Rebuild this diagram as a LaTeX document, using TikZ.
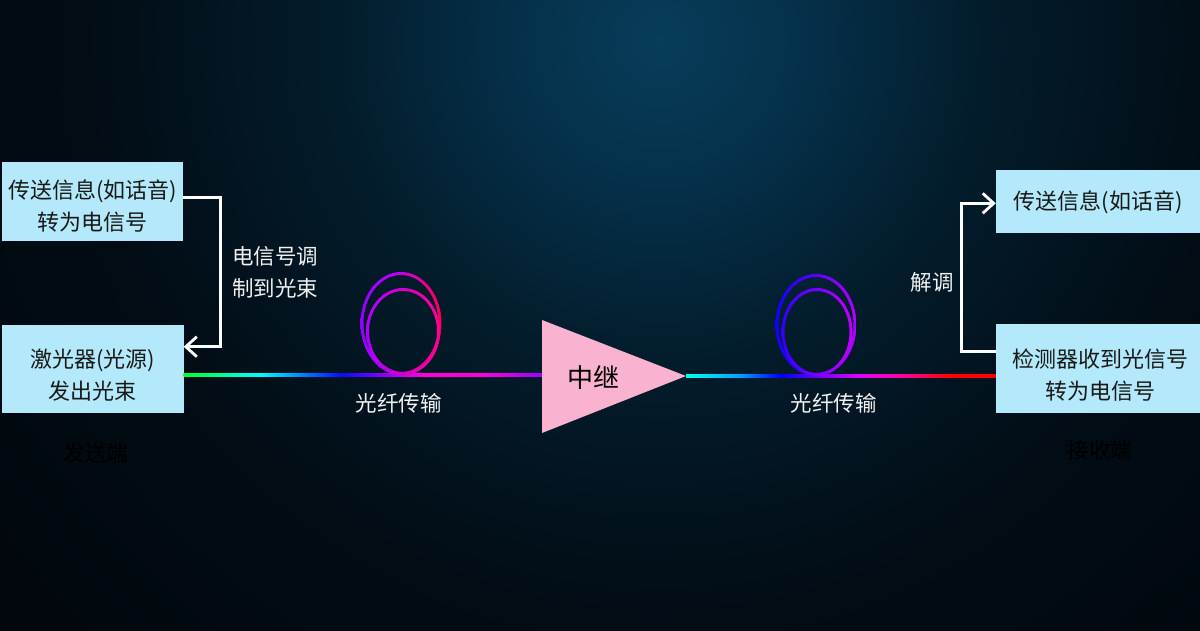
\documentclass[tikz,border=0pt]{standalone}
\usepackage{fontspec}
\setmainfont{Noto Sans CJK SC}
\usetikzlibrary{arrows.meta}
\definecolor{boxc}{HTML}{B3E9FA}
\definecolor{tric}{HTML}{F9B3D0}
\definecolor{bgA}{HTML}{073D5A}
\definecolor{bgB}{HTML}{05304A}
\definecolor{bgC}{HTML}{031C2B}
\definecolor{bgD}{HTML}{020C15}
\definecolor{bgE}{HTML}{01060B}
\definecolor{fA}{HTML}{00FF30}
\definecolor{fB}{HTML}{00FFFF}
\definecolor{fC}{HTML}{0010FF}
\definecolor{fD}{HTML}{8000FF}
\definecolor{fE}{HTML}{FF00DD}
\definecolor{fF}{HTML}{A000FF}
\definecolor{gA}{HTML}{00FFEE}
\definecolor{gB}{HTML}{00A0FF}
\definecolor{gC}{HTML}{0000FF}
\definecolor{gD}{HTML}{7000FF}
\definecolor{gE}{HTML}{E000FF}
\definecolor{gF}{HTML}{FF00AA}
\definecolor{gG}{HTML}{FF0000}
\definecolor{lA}{HTML}{9000FF}
\definecolor{lB}{HTML}{B800FF}
\definecolor{lC}{HTML}{FF0050}
\definecolor{lD}{HTML}{A800FF}
\definecolor{lE}{HTML}{FF0090}
\definecolor{mA}{HTML}{1000FF}
\definecolor{mB}{HTML}{B000FF}
\definecolor{mC}{HTML}{3000FF}
\definecolor{mD}{HTML}{C000FF}
\pgfdeclareradialshading{bgglow}{\pgfpoint{0bp}{0bp}}{color(0bp)=(bgA); color(4bp)=(bgB); color(9bp)=(bgC); color(16bp)=(bgD); color(25bp)=(bgE); color(50bp)=(bgE)}
\pgfdeclarehorizontalshading{fiberL}{100bp}{color(0bp)=(fA); color(25bp)=(fA); color(35.7bp)=(fB); color(46.9bp)=(fC); color(52.4bp)=(fD); color(58bp)=(fE); color(66.4bp)=(fE); color(75bp)=(fF); color(100bp)=(fF)}
\pgfdeclarehorizontalshading{fiberR}{100bp}{color(0bp)=(gA); color(25bp)=(gA); color(33.7bp)=(gB); color(40.2bp)=(gC); color(46.6bp)=(gD); color(53bp)=(gE); color(59.5bp)=(gF); color(67.7bp)=(gG); color(100bp)=(gG)}
\pgfdeclarehorizontalshading{loopAo}{100bp}{color(0bp)=(lA); color(25bp)=(lA); color(45bp)=(lB); color(75bp)=(lC); color(100bp)=(lC)}
\pgfdeclarehorizontalshading{loopAi}{100bp}{color(0bp)=(lD); color(25bp)=(lD); color(75bp)=(lE); color(100bp)=(lE)}
\pgfdeclarehorizontalshading{loopBo}{100bp}{color(0bp)=(mA); color(25bp)=(mA); color(75bp)=(mB); color(100bp)=(mB)}
\pgfdeclarehorizontalshading{loopBi}{100bp}{color(0bp)=(mC); color(25bp)=(mC); color(75bp)=(mD); color(100bp)=(mD)}
\tikzset{
  box/.style={fill=boxc, inner sep=0pt},
  boxtext/.style={text=black!90, inner sep=0pt, align=center, font=\fontsize{22pt}{32pt}\selectfont},
  lbl/.style={text=white!95!black, inner sep=0pt, align=center, font=\fontsize{21.5pt}{32pt}\selectfont},
  dimlbl/.style={text=black, inner sep=0pt, font=\fontsize{21.5pt}{26pt}\selectfont},
  conn/.style={draw=white, line width=2.8pt, -{Straight Barb[length=11pt,width=20pt]}},
}
\begin{document}
\begin{tikzpicture}[x=1pt,y=-1pt]
\useasboundingbox (0,0) rectangle (1200,630);
\begin{scope}
\clip (0,0) rectangle (1200,630);
\fill[bgE] (0,0) rectangle (1200,630);
\shade[shading=bgglow] (660,40) circle [radius=900pt];
\end{scope}
% boxes
\node[box, minimum width=181pt, minimum height=78.5pt] (ltop) at (92.5,201.3) {};
\node[box, minimum width=181.5pt, minimum height=88.3pt] (lbot) at (92.75,369.2) {};
\node[box, minimum width=204pt, minimum height=62.7pt] (rtop) at (1098,201.3) {};
\node[box, minimum width=204pt, minimum height=89.3pt] (rbot) at (1098,368.7) {};
\node[boxtext] (ltopT) at ([yshift=-5pt]ltop.center) {传送信息(如话音)\\转为电信号};
\node[boxtext] (lbotT) at ([yshift=-6pt]lbot.center) {激光器(光源)\\发出光束};
\node[boxtext] (rtopT) at ([yshift=-1pt]rtop.center) {传送信息(如话音)};
\node[boxtext] (rbotT) at ([xshift=2pt,yshift=-6.5pt]rbot.center) {检测器收到光信号\\转为电信号};
% connectors
\draw[conn] ([yshift=3.6pt]ltop.east) -- ++(37,0) |- ([yshift=22.5pt]lbot.east);
\draw[conn] ([yshift=17pt]rbot.west) -- ++(-34,0) |- ([yshift=-2pt]rtop.west);
% amplifier corners
\coordinate (tl) at (542,320);
\coordinate (tb) at (542,433);
\coordinate (tt) at (686,376);
% fibers
\coordinate (fl0) at ([yshift=-6pt]lbot.east);
\coordinate (fl1) at (fl0 -| tl);
\coordinate (fr1) at (tt -| rbot.west);
\shade[shading=fiberL] ([yshift=1.5pt]fl0) rectangle ([yshift=-1.5pt]fl1);
\shade[shading=fiberR] ([yshift=1.5pt]tt) rectangle ([yshift=-1.5pt]fr1);
% loops
\shade[shading=loopAo, even odd rule] (401,323.5) ellipse [x radius=40.5pt, y radius=51.5pt] (401,323.5) ellipse [x radius=37.5pt, y radius=48.5pt];
\shade[shading=loopAi, even odd rule] (403,331.5) ellipse [x radius=37pt, y radius=43.5pt] (403,331.5) ellipse [x radius=34pt, y radius=40.5pt];
\shade[shading=loopBo, even odd rule] (816,325) ellipse [x radius=40.5pt, y radius=51pt] (816,325) ellipse [x radius=37.5pt, y radius=48pt];
\shade[shading=loopBi, even odd rule] (817,332) ellipse [x radius=35.5pt, y radius=44pt] (817,332) ellipse [x radius=32.5pt, y radius=41pt];
% amplifier
\fill[tric] (tl) -- (tt) -- (tb) -- cycle;
\node[text=black, inner sep=0pt, font=\fontsize{26pt}{30pt}\selectfont] (rep) at (593,378) {中继};
% labels
\node[lbl] (mod) at (275,272) {电信号调\\制到光束};
\node[lbl] (f1) at (398.5,403) {光纤传输};
\node[lbl] (f2) at (833.5,403) {光纤传输};
\node[lbl] (dem) at (932,282) {解调};
\node[dimlbl] (send) at (96,453) {发送端};
\node[dimlbl] (recv) at (1100,450) {接收端};
\end{tikzpicture}
\end{document}
